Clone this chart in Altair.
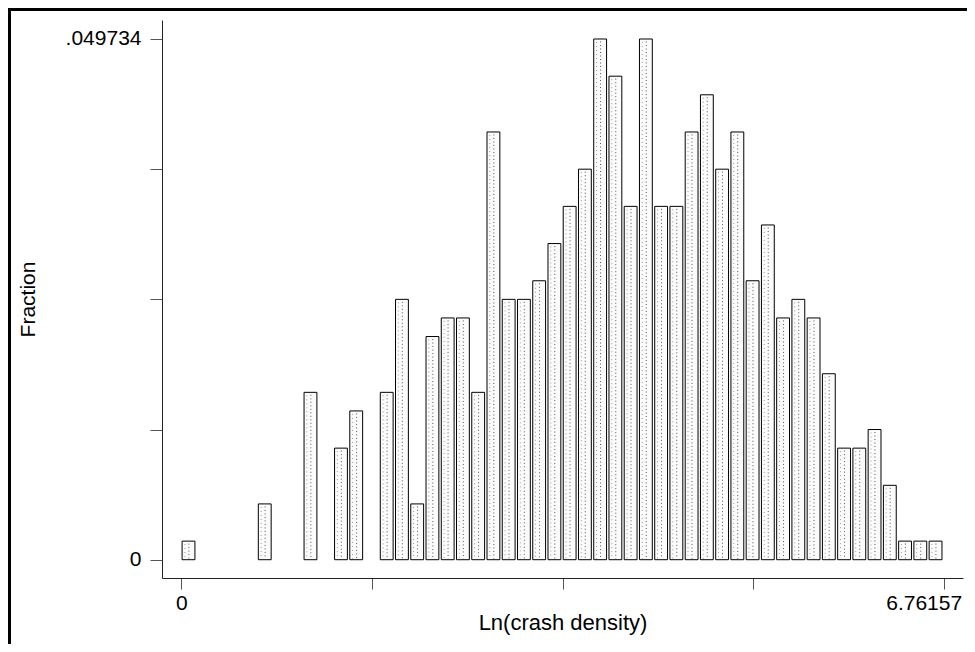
import altair as alt
import pandas as pd

# Histogram counts per bin (50 equal bins from x_min to x_max)
counts = [1, 0, 0, 0, 0, 3, 0, 0, 9, 0,
          6, 8, 0, 9, 14, 3, 12, 13, 13, 9,
          23, 14, 14, 15, 17, 19, 21, 28, 26, 19,
          28, 19, 19, 23, 25, 21, 23, 15, 18, 13,
          14, 13, 10, 6, 6, 7, 4, 1, 1, 1]
x_min = 0.0
x_max = 6.76157
n_bins = 50

x_ticks = [0, 1.6903925, 3.380785, 5.0711775, 6.76157]
x_tick_labels = ["0", "", "", "", "6.76157"]
y_ticks = [0, 0.0124335, 0.024867, 0.0373005, 0.049734]
y_tick_labels = ["0", "", "", "", ".049734"]

x_title = "Ln(crash density)"
y_title = "Fraction"

total = sum(counts)
width_bin = (x_max - x_min) / n_bins
rows = []
for i, c in enumerate(counts):
    if c > 0:
        rows.append({"lo": x_min + i * width_bin, "hi": x_min + (i + 1) * width_bin,
                     "frac": c / total, "zero": 0.0})
df = pd.DataFrame(rows)


def label_expr(values, labels, tol):
    expr = "''"
    for v, lab in reversed(list(zip(values, labels))):
        if lab:
            expr = f"abs(datum.value - ({v})) < {tol} ? '{lab}' : ({expr})"
    return expr


FONT = "Liberation Sans"

xs = alt.Scale(domain=[-0.172, 6.933], nice=False, zero=False)
ys = alt.Scale(domain=[-0.001747, 0.051548], nice=False, zero=False)

x_axis = alt.Axis(
    values=x_ticks, labelExpr=label_expr(x_ticks, x_tick_labels, 1e-4),
    grid=False, domainColor="#222222", domainWidth=1, tickColor="#555555", tickSize=11,
    labelFont=FONT, labelFontSize=21, labelColor="black", labelPadding=3,
    labelFlush=False, labelOverlap=False,
    labelOffset={"condition": {"test": "datum.value > 6", "value": -20}, "value": 0},
    title=x_title, titleFont=FONT, titleFontSize=22, titleFontWeight="normal",
    titleColor="black", titleX=400.5, titleY=51, titleBaseline="alphabetic",
    titleAlign="center",
)
y_axis = alt.Axis(
    values=y_ticks, labelExpr=label_expr(y_ticks, y_tick_labels, 1e-5),
    grid=False, domainColor="#222222", domainWidth=1, tickColor="#555555", tickSize=12,
    labelFont=FONT, labelFontSize=21, labelColor="black", labelPadding=9,
    labelFlush=False, labelOverlap=False,
    title=y_title, titleFont=FONT, titleFontSize=21, titleFontWeight="normal",
    titleColor="black", titleX=-128, titleY=279, titleBaseline="alphabetic",
    titleAlign="center", titleAngle=270,
)

base = alt.Chart(df)

bars = base.mark_bar(fill="#fbfbfb", stroke="black", strokeWidth=1,
                     xOffset=0.7, x2Offset=-1.7).encode(
    x=alt.X("lo:Q", scale=xs, axis=x_axis),
    x2="hi:Q",
    y=alt.Y("frac:Q", scale=ys, axis=y_axis),
    y2="zero:Q",
)

dots_dark = base.mark_rule(color="#555555", strokeWidth=1, strokeDash=[1, 2.5],
                           xOffset=7.5, yOffset=2.5, y2Offset=-1).encode(
    x="lo:Q", y="frac:Q", y2="zero:Q")
dots_light = base.mark_rule(color="#9a9a9a", strokeWidth=1, strokeDash=[1, 3],
                            xOffset=3.5, yOffset=3, y2Offset=-1).encode(
    x="lo:Q", y="frac:Q", y2="zero:Q")

one = alt.Chart(pd.DataFrame({"a": [0]}))
left_border = one.mark_rule(color="black", strokeWidth=3).encode(
    x=alt.value(-152.5), y=alt.value(-12), y2=alt.value(624))
top_border = one.mark_rule(color="black", strokeWidth=3).encode(
    x=alt.value(-154), x2=alt.value(805), y=alt.value(-10.5))

chart = alt.layer(bars, dots_light, dots_dark, left_border, top_border).properties(
    width=801, height=558,
    autosize="none",
    padding={"left": 154, "top": 12, "right": 4, "bottom": 66},
    background="white",
).configure_view(stroke=None)

chart.save("out.html", embed_options={"renderer": "svg", "actions": False})
